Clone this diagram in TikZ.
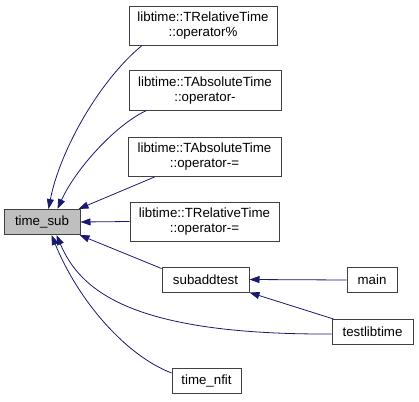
\documentclass[tikz,border=0pt]{standalone}
\usepackage{fontspec}
\setmainfont{Liberation Sans}
\usetikzlibrary{arrows.meta, calc}
\definecolor{edgeBlue}{HTML}{191970}
\definecolor{boxLine}{HTML}{404040}
\definecolor{focusFill}{HTML}{BFBFBF}

\begin{document}
\begin{tikzpicture}[
  x=1pt, y=-1pt,
  font=\fontsize{13.3}{15}\selectfont,
  fn/.style     ={draw=boxLine, line width=1pt, fill=white, align=center,
                  inner sep=1pt, minimum height=25pt},
  member/.style ={fn, minimum height=39pt},
  focus/.style  ={fn, fill=focusFill},
  calls/.style  ={{Triangle[length=10pt, width=7pt]}-, draw=edgeBlue, line width=0.8pt},
]
\useasboundingbox (0,0) rectangle (419,401);

% ----- Called function -----
\node[focus, minimum width=76pt] (tsub) at (42,222) {time\_sub};

% ----- Member operators -----
\node[member, minimum width=148pt] (opmod)    at (203,26)
  {libtime::TRelativeTime\\::operator\%};
\node[member, minimum width=152pt] (absminus) at (205,90.5)
  {libtime::TAbsoluteTime\\::operator-};
\node[member, minimum width=153pt] (absmineq) at (204.5,157)
  {libtime::TAbsoluteTime\\::operator-=};
\node[member, minimum width=149pt] (relmineq) at (204.5,221.5)
  {libtime::TRelativeTime\\::operator-=};

% ----- Test programs -----
\node[fn, minimum width=87pt] (subadd)  at (205.5,279.5) {subaddtest};
\node[fn, minimum width=50pt] (main)    at (372,280)     {main};
\node[fn, minimum width=81pt] (testlib) at (372.5,332)   {testlibtime};
\node[fn, minimum width=69pt] (nfit)    at (206.5,381)   {time\_nfit};

% ----- Callers of time_sub -----
\draw[calls] ($(tsub.north west)+(45,0)$) .. controls (60,150) and (100,80) ..
  ($(opmod.south west)+(13,0)$);
\draw[calls] ($(tsub.north west)+(54,0)$) .. controls (75,170) and (115,125) ..
  ($(absminus.south west)+(18,0)$);
\draw[calls] ($(tsub.north east)+(-2,0)$) -- ($(absmineq.south west)+(27,0)$);
\draw[calls] (tsub.east) -- (relmineq.west);
\draw[calls] ($(tsub.south east)+(-1,0)$) -- ($(subadd.north west)+(0,2)$);
\draw[calls] ($(tsub.south west)+(53,0)$) .. controls (80,290) and (130,335) ..
  ($(testlib.west)+(0,2)$);
\draw[calls] ($(tsub.south west)+(48,0)$) .. controls (78,300) and (125,355) ..
  ($(nfit.west)+(0,-8)$);

% ----- Callers of subaddtest -----
\draw[calls] (subadd.east) -- (main.west);
\draw[calls] (subadd.south east) -- ($(testlib.north west)+(2,0)$);

\end{tikzpicture}
\end{document}
